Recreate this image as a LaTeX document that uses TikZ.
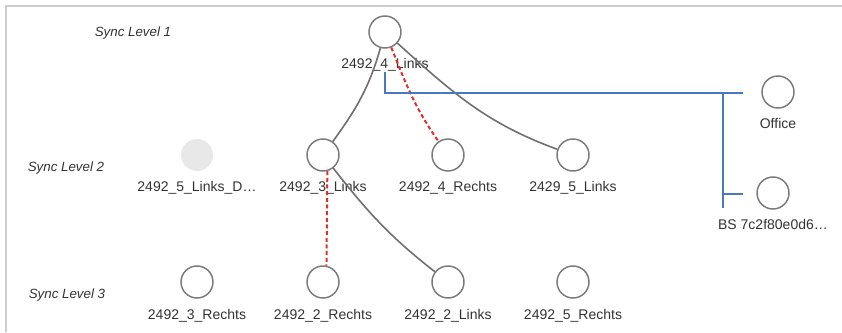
\documentclass[tikz,border=0pt]{standalone}
\usepackage{fontspec}
\setmainfont{Liberation Sans}
\usetikzlibrary{positioning}
\definecolor{txt}{HTML}{333333}
\definecolor{ringgray}{HTML}{7A7A7A}
\definecolor{linkgray}{HTML}{707070}
\definecolor{ghost}{HTML}{E8E8E8}
\definecolor{syncred}{HTML}{E0302A}
\definecolor{busblue}{HTML}{4A78C0}
\definecolor{framegray}{HTML}{CCCCCC}

\begin{document}
\begin{tikzpicture}[x=0.75pt, y=0.75pt,
    station/.style={circle, draw=ringgray, line width=1.1pt, fill=white, minimum size=24pt, inner sep=0pt},
    offline/.style={circle, fill=ghost, minimum size=24pt, inner sep=0pt},
    lbl/.style={font=\fontsize{10.5}{12}\selectfont, text=txt, inner sep=0pt, text height=7.5pt, text depth=2pt},
    lvl/.style={font=\fontsize{10}{12}\selectfont\itshape, text=txt},
    link/.style={draw=linkgray, line width=1.2pt},
    sync/.style={draw=syncred, line width=1.5pt, dash pattern=on 3pt off 2pt},
    bus/.style={draw=busblue, line width=0.9pt},
    label distance=7.5pt
]
\useasboundingbox (0,0) rectangle (842,332);
\draw[framegray, line width=1.5pt] (6,0) -- (6,326) -- (842,326);

% sync levels
\node[lvl] (lvlone) at (133,299) {Sync Level 1};
\node[lvl] (lvltwo) at (66,164) {Sync Level 2};
\node[lvl] (lvlthree) at (67,37) {Sync Level 3};

\node[station, label={[lbl, name=rootlbl]below:2492\_4\_Links}] (root) at (385,300) {};

\node[offline, label={[lbl]below:2492\_5\_Links\_D…}] (l2a) at (197,177) {};
\node[station, label={[lbl]below:2492\_3\_Links}] (l2b) at (323,177) {};
\node[station, label={[lbl]below:2492\_4\_Rechts}] (l2c) at (448,177) {};
\node[station, label={[lbl]below:2429\_5\_Links}] (l2d) at (573,177) {};

\node[station, label={[lbl]below:2492\_3\_Rechts}] (l3a) at (197,50) {};
\node[station, label={[lbl]below:2492\_2\_Rechts}] (l3b) at (323,50) {};
\node[station, label={[lbl]below:2492\_2\_Links}] (l3c) at (448,50) {};
\node[station, label={[lbl]below:2492\_5\_Rechts}] (l3d) at (573,50) {};

\node[station, label={[lbl]below:Office}] (office) at (778,240) {};
\node[station, label={[lbl]below:BS 7c2f80e0d6…}] (bs) at (773,139) {};

\draw[link] (root) to[out=-106, in=54] (l2b);
\draw[link] (root) to[out=-42, in=160] (l2d);
\draw[sync] (root) to[out=-68, in=125] (l2c);
\draw[link] (l2b) to[out=-52, in=142] (l3c);
\draw[sync] (l2b.-75) -- (l3b.78);

% bus to office and BS
\coordinate (tap) at (723,239);
\coordinate (tapend) at (723,124);
\coordinate (officeend) at (743,239);
\coordinate (bsend) at (743,138);
\draw[bus] (rootlbl.south) |- (officeend);
\draw[bus] (tap) -- (tapend);
\draw[bus] (tap |- bsend) -- (bsend);
\end{tikzpicture}
\end{document}
